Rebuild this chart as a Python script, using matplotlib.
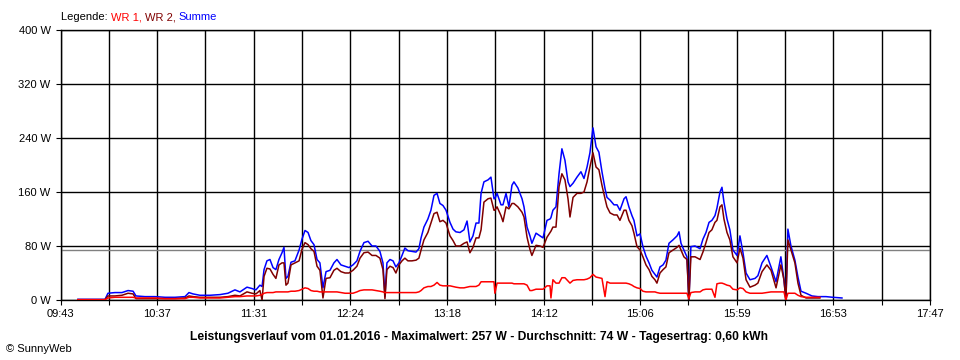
import numpy as np
import matplotlib
matplotlib.use("Agg")
import matplotlib.pyplot as plt

plt.rcParams['font.family'] = ['Liberation Sans', 'DejaVu Sans']

# Zeitachse: Minuten nach 09:43
start = 9 * 60 + 43
ende = 17 * 60 + 47
zeit = [9.7, 24.8, 26.4, 30.3, 34.2, 37.6, 40.4, 42.0, 47.0, 52.6,
        58.2, 63.7, 69.3, 71.5, 73.8, 77.6, 83.2, 88.8, 93.2, 97.1,
        99.9, 103.8, 106.6, 108.8, 111.0, 112.2, 113.3, 114.9, 116.6, 118.3,
        119.9, 121.6, 123.3, 124.4, 125.5, 126.6, 128.3, 130.5, 132.8, 134.4,
        136.1, 137.8, 139.4, 141.1, 142.8, 144.4, 146.1, 147.8, 150.0, 152.2,
        153.9, 156.1, 158.4, 160.6, 162.8, 165.0, 166.7, 168.9, 171.2, 173.4,
        175.6, 177.8, 179.5, 180.6, 181.7, 183.4, 185.1, 186.7, 188.4, 190.1,
        191.7, 193.4, 195.6, 197.9, 199.5, 200.7, 202.3, 204.5, 206.2, 207.9,
        209.6, 211.2, 212.9, 214.6, 216.8, 218.5, 220.1, 222.4, 224.6, 226.3,
        227.9, 229.6, 231.3, 232.9, 234.1, 235.7, 238.0, 239.6, 241.3, 241.8,
        243.0, 245.2, 246.3, 248.0, 249.6, 251.3, 252.4, 254.6, 256.9, 258.0,
        259.7, 261.3, 262.4, 264.7, 266.9, 268.6, 270.8, 272.5, 273.0, 274.1,
        275.8, 277.5, 279.1, 280.8, 282.5, 283.6, 285.3, 287.5, 289.7, 291.4,
        293.1, 294.7, 296.4, 298.1, 299.7, 301.4, 303.1, 304.2, 305.9, 308.1,
        309.8, 311.4, 313.7, 314.8, 316.4, 318.1, 319.2, 320.9, 322.6, 324.2,
        325.9, 327.6, 329.2, 330.9, 332.0, 333.7, 335.4, 337.0, 338.7, 340.9,
        343.2, 344.3, 345.4, 347.0, 348.7, 349.8, 350.9, 353.2, 356.0, 357.6,
        359.3, 361.0, 362.6, 364.3, 365.4, 367.1, 368.2, 369.3, 371.0, 372.6,
        374.3, 376.6, 378.2, 379.9, 381.6, 383.8, 386.6, 388.2, 390.5, 393.2,
        395.5, 398.3, 401.0, 402.7, 403.8, 404.9, 406.6, 408.8, 410.5, 412.2,
        415.0, 418.3, 421.6, 422.7, 426.1, 430.0, 435.0]

summe = [1, 1, 10, 11, 11, 14, 13, 6, 5, 5,
         4, 4, 5, 11, 9, 7, 7, 8, 10, 15,
         12, 19, 17, 15, 22, 20, 45, 58, 60, 48,
         45, 60, 70, 78, 32, 35, 56, 58, 74, 90,
         103, 100, 88, 82, 60, 55, 18, 42, 44, 55,
         60, 52, 50, 48, 52, 58, 72, 85, 87, 80,
         80, 72, 55, 5, 55, 60, 58, 49, 55, 66,
         77, 73, 72, 71, 76, 92, 108, 120, 133, 155,
         158, 143, 140, 133, 115, 105, 101, 100, 104, 117,
         86, 95, 114, 114, 158, 175, 178, 182, 150, 150,
         158, 141, 141, 158, 138, 170, 175, 166, 150, 138,
         108, 95, 84, 99, 95, 92, 118, 120, 122, 133,
         138, 187, 224, 207, 175, 168, 173, 182, 190, 180,
         197, 218, 255, 227, 219, 190, 165, 152, 148, 141,
         141, 133, 150, 153, 138, 125, 118, 95, 98, 79,
         65, 55, 44, 38, 34, 49, 52, 59, 84, 89,
         95, 101, 84, 74, 64, 0, 79, 80, 76, 90,
         100, 115, 118, 125, 136, 160, 167, 145, 120, 104,
         74, 66, 95, 70, 40, 30, 32, 36, 55, 66,
         49, 27, 64, 30, 0, 105, 80, 59, 34, 13,
         10, 6, 5, 5, 5, 4, 3]

wr2 = [0.5, 0.5, 6, 6, 7, 10, 9, 2, 2, 2,
       2, 2, 3, 6, 5, 4, 4, 4, 5, 7,
       6, 12, 10, 9, 14, 0, 35, 47, 46, 38,
       32, 52, 55, 55, 22, 25, 52, 55, 58, 75,
       85, 82, 76, 72, 50, 44, 3, 32, 33, 44,
       47, 42, 40, 40, 44, 50, 62, 70, 71, 66,
       66, 62, 45, 2, 45, 50, 48, 40, 52, 58,
       62, 58, 58, 59, 62, 74, 89, 100, 114, 128,
       130, 116, 118, 114, 95, 88, 80, 80, 84, 86,
       70, 78, 92, 92, 104, 145, 150, 151, 133, 133,
       138, 125, 116, 138, 135, 143, 143, 138, 130, 123,
       93, 75, 66, 81, 80, 78, 93, 100, 102, 108,
       108, 168, 187, 178, 150, 123, 152, 158, 158, 160,
       175, 197, 218, 197, 193, 170, 150, 138, 129, 126,
       126, 118, 133, 133, 118, 110, 99, 79, 74, 64,
       52, 45, 35, 30, 25, 40, 45, 49, 70, 74,
       78, 81, 74, 64, 60, 0, 64, 64, 60, 71,
       85, 100, 104, 115, 118, 138, 141, 120, 100, 89,
       64, 55, 77, 62, 30, 19, 22, 25, 42, 52,
       44, 18, 52, 30, 0, 89, 74, 55, 25, 7,
       3, 3, 3, 3, np.nan, np.nan, np.nan]

wr1 = [0.5, 0.5, 3, 4, 4, 4, 4, 3, 3, 3,
       2, 2, 2, 4, 4, 3, 3, 3, 4, 5,
       5, 6, 6, 6, 7, 8, 10, 11, 11, 11,
       12, 12, 12, 12, 12, 12, 13, 13, 14, 16,
       18, 17, 14, 13, 13, 12, 12, 12, 12, 12,
       12, 11, 10, 10, 10, 12, 14, 15, 15, 15,
       14, 13, 12, 11, 11, 11, 11, 11, 11, 11,
       11, 11, 11, 11, 12, 14, 18, 20, 20, 22,
       26, 22, 21, 21, 21, 20, 19, 18, 18, 19,
       20, 20, 20, 22, 27, 27, 27, 27, 27, 10,
       25, 25, 25, 25, 25, 25, 24, 24, 24, 24,
       22, 14, 14, 16, 16, 16, 21, 21, 3, 30,
       25, 25, 33, 33, 28, 25, 29, 30, 30, 30,
       31, 33, 38, 34, 33, 32, 5, 27, 25, 25,
       25, 25, 25, 25, 24, 22, 20, 18, 17, 13,
       12, 12, 12, 12, 11, 10, 10, 10, 10, 10,
       10, 10, 10, 10, 10, 2, 11, 12, 12, 15,
       16, 16, 16, 4, 24, 25, 25, 24, 22, 21,
       16, 15, 18, 17, 12, 10, 10, 10, 10, 11,
       12, 12, 12, 12, 0, 10, 10, 10, 7, 5,
       4, 4, 4, 4, np.nan, np.nan, np.nan]

durchschnitt = 74
x_labels = ['09:43', '10:37', '11:31', '12:24', '13:18', '14:12',
            '15:06', '15:59', '16:53', '17:47']
y_werte = [0, 80, 160, 240, 320, 400]

t = start + np.array(zeit)

fig = plt.figure(figsize=(9.6, 3.6), dpi=100)
ax = fig.add_axes([60.5 / 960, 60 / 360, 869.5 / 960, 270 / 360])

# Gitter
x_ticks = np.linspace(start, ende, 19)
for xv in x_ticks:
    ax.axvline(xv, color='black', lw=1.0, zorder=1)
for yv in y_werte:
    ax.axhline(yv, color='black', lw=1.0, zorder=1)
ax.axhline(durchschnitt, color='#808080', lw=1.0, zorder=1)

# Kurven
ax.plot(t, summe, color='#0000ff', lw=1.1, zorder=3)
ax.plot(t, wr2, color='#800000', lw=1.1, zorder=4)
ax.plot(t, wr1, color='#ff0000', lw=1.1, zorder=5)

ax.set_xlim(start, ende)
ax.set_ylim(0, 400)
ax.set_xticks(x_ticks)
lbl = []
for i in range(19):
    lbl.append(x_labels[i // 2] if i % 2 == 0 else '')
ax.set_xticklabels(lbl)
ax.set_yticks(y_werte)
ax.set_yticklabels([f"{v} W" for v in y_werte])
ax.tick_params(axis='both', length=3.6, width=0.8, color='black',
               labelsize=8, direction='out')
ax.tick_params(axis='x', pad=3)
ax.tick_params(axis='y', pad=3.5)
for s in ax.spines.values():
    s.set_color('black')
    s.set_linewidth(1.0)

# Legende oben links
t1 = fig.text(61 / 960, 1 - 17 / 360, "Legende: ", fontsize=8, va='center', color='black')
t2 = ax.annotate("WR 1, ", xy=(1, 0), xycoords=t1, va='bottom', fontsize=8, color='#ff0000')
t3 = ax.annotate("WR 2, ", xy=(1, 0), xycoords=t2, va='bottom', fontsize=8, color='#800000')
ax.annotate("Summe", xy=(1, 0), xycoords=t3, va='bottom', fontsize=8, color='#0000ff')

fig.text(0.499, 1 - 337 / 360,
         "Leistungsverlauf vom 01.01.2016 - Maximalwert: 257 W - Durchschnitt: 74 W - Tagesertrag: 0,60 kWh",
         ha='center', va='center', fontsize=8.7, fontweight='bold')
fig.text(6 / 960, 1 - 349 / 360, "\u00a9 SunnyWeb", fontsize=8, va='center')

fig.savefig('out.png', dpi=100, facecolor='white')
